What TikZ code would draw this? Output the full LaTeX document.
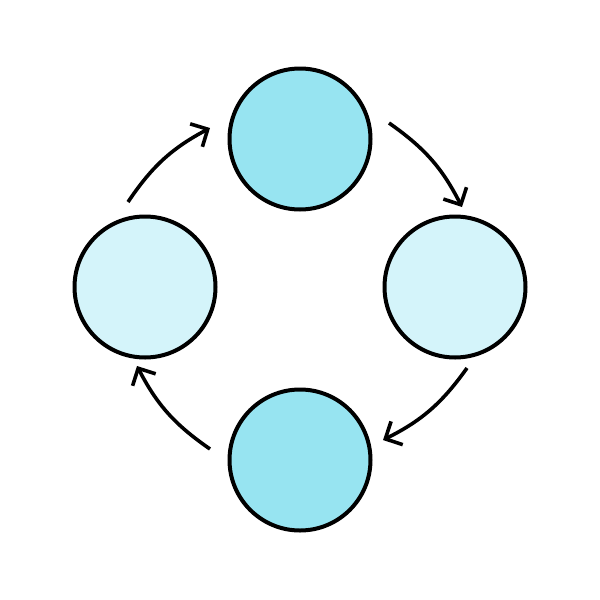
\documentclass[tikz,border=0pt]{standalone}
\usetikzlibrary{arrows.meta}
\definecolor{darkfill}{HTML}{97E4F1}
\definecolor{lightfill}{HTML}{D4F4FA}
\begin{document}
\begin{tikzpicture}[x=1pt,y=-1pt,
  ball/.style={circle,draw=black,line width=4pt,inner sep=0pt,minimum size=141pt},
  flow/.style={line width=3.6pt,-{Straight Barb[length=13pt,width=26pt,line width=3.6pt]},bend left=14}]
\useasboundingbox[fill=white] (0,0) rectangle (600,600);
\node[ball,fill=darkfill] (top) at (300,139) {};
\node[ball,fill=lightfill] (right) at (455,287) {};
\node[ball,fill=darkfill] (bottom) at (300,460) {};
\node[ball,fill=lightfill] (left) at (145,287) {};
\coordinate (a1) at (389,123); \coordinate (b1) at (462,207);
\coordinate (a2) at (467,368); \coordinate (b2) at (383,440);
\coordinate (a3) at (210,449); \coordinate (b3) at (137,366);
\coordinate (a4) at (128,202); \coordinate (b4) at (210,128);
\draw[flow] (a1) to (b1);
\draw[flow] (a2) to (b2);
\draw[flow] (a3) to (b3);
\draw[flow] (a4) to (b4);
\end{tikzpicture}
\end{document}
